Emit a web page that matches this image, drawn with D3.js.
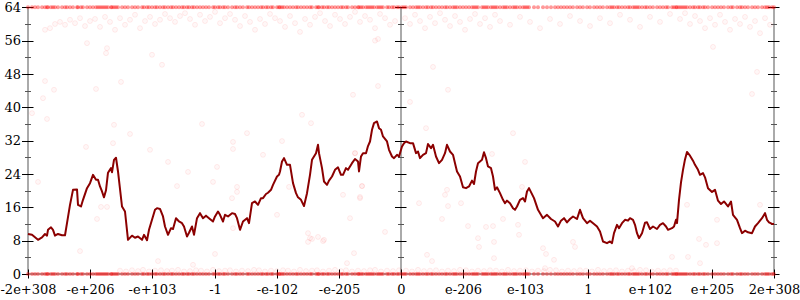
<!DOCTYPE html>
<head>
<meta charset="utf-8">
<style>
body { margin: 0; background: #fff; }
svg { display: block; }
text { font: 13px "DejaVu Serif", serif; fill: #000; }
.axis-line { stroke: #aaa; stroke-width: 2px; }
.major { stroke: #000; stroke-width: 1px; }
.minor { stroke: #555; stroke-width: 1px; }
.dot { fill: red; fill-opacity: 0.03; stroke: red; stroke-opacity: 0.07; }
.band { fill: red; fill-opacity: 0.4; stroke: none; }
.avg { fill: none; stroke: #8b0000; stroke-width: 2px; stroke-linejoin: round; }
</style>
</head>
<body>
<script src="https://cdn.jsdelivr.net/npm/d3@7"></script>
<script>
// x positions are sample ranks (0..746), tick labels sit at fixed ranks
var tickLabels = ["-2e+308", "-e+206", "-e+103", "-1", "-e-102", "-e-205", "0",
                  "e-206", "e-103", "1", "e+102", "e+205", "2e+308"];
var tickRank = [0, 62.2, 124.3, 186.5, 248.7, 310.8, 373, 435.2, 497.3, 559.5, 621.7, 683.8, 746];
var majorTicks = [0, 8, 16, 24, 32, 40, 48, 56, 64];
var minorTicks = [4, 12, 20, 28, 36, 44, 52, 60];

// average error line
var lineRank = [0,4,7,10,14,17,19,20,23,25,27,30,34,37,39,42,45,49,50,53,55,59,62,65,68,70,72,74,76,78,
  80,83,84,86,88,90,94,97,100,104,107,110,114,116,119,121,124,127,129,132,135,137,140,143,145,148,151,154,156,159,
  161,164,166,169,172,175,178,181,185,187,190,192,195,197,200,204,207,209,212,215,219,221,224,227,230,233,235,238,240,243,
  245,249,251,252,254,256,259,262,265,268,270,273,276,279,282,284,288,290,291,294,296,299,301,304,307,310,313,315,318,320,
  324,327,330,331,333,335,338,340,342,344,346,349,351,353,355,359,361,364,366,369,371,374,376,378,382,385,388,390,392,395,
  398,400,403,405,408,411,414,417,419,422,425,427,429,432,435,438,441,444,446,448,450,454,456,458,460,463,465,467,469,472,
  475,477,479,482,485,487,489,492,495,497,499,501,506,510,515,519,523,527,530,533,536,539,542,545,549,552,555,559,562,566,
  569,572,575,579,582,584,586,589,591,594,597,600,602,605,607,609,611,614,617,619,622,625,629,632,635,638,640,644,646,648,
  649,651,653,655,657,659,662,665,667,670,672,675,677,680,684,687,690,693,696,700,703,705,709,712,714,717,720,724,727,730,
  734,737,739,741,744,746];
var lineErr = [9.6,9.4,8.8,8.2,8.8,9.6,9.2,10.6,11.2,10.6,9.2,9.6,9.3,9.3,12.2,16.6,20.2,20.3,16.6,16.2,17.8,20.6,21.8,23.8,22.6,22.6,21,19.8,18.4,20.1,
  24.3,25.4,24.4,27.4,27.9,24.6,16.2,15,8.2,9.2,8.7,9.0,8.2,9.4,8.1,10.6,13,15.4,15.8,15.6,13.8,11.4,9.4,11,10.8,13.4,12.6,12.2,11.4,9.0,
  9.9,11.4,9.4,13.4,14.6,13.4,14,13.4,12.6,13.8,15,14.2,12.6,14.2,13.8,14.6,14.4,13.4,10.6,12.6,13.4,12.2,17,17.4,16.6,18.2,18.2,19.2,19.5,20.2,
  21.4,23.4,23.8,24.6,27,27.8,26.2,26.2,21.8,19.4,18.4,17.8,16.3,19.4,23.8,27.4,29,31,29,25.4,22.2,21.4,22.4,23.4,25,25.6,23.8,23.8,25.4,25,
  26.6,27.6,27,24.6,28.2,29,29,30.7,31.8,34.6,36.2,36.6,35,34.6,33,31.8,29.8,28.2,27.8,28.6,28.2,30.6,31.4,31.8,31.4,31.4,29,29.4,27.8,28.6,
  29,31.2,30.2,31,28.2,26.6,27.4,29,31,29.4,28.6,26.6,24.6,23.4,20.8,20.6,21,22.4,21.6,24.6,26.6,27.4,29.2,27.8,25.8,25.4,23.4,20.2,20.8,19.4,
  17.8,17,17.6,17,15.8,15.4,16.2,17.8,18.2,17.4,19.8,20.6,18.2,15.4,13.4,14.2,13.2,12.6,11.4,12.8,13.4,12.4,13.2,13.8,13.2,15.4,13.4,12.2,12.8,12.0,
  11.4,10.2,7.8,7.4,7.8,7.4,9.8,11.8,11.0,12.2,13.0,12.8,13.4,13.0,11.8,9.8,8.6,9.8,12.3,12.4,10.8,11.4,10.8,11.8,12.2,11.4,10.6,11.0,11.4,13.0,
  12.2,17.8,22,25,27.5,29.3,28.4,27.2,26.2,25,23.8,24.2,23.2,20.6,19.7,20.2,17.6,16.8,17.4,16.2,17.4,14.2,13,11,9.8,10.4,10,9.8,11.4,12.2,
  13.4,14.6,13,12.4,12,12];

// samples with all bits wrong / exact
var bandErr = [0, 64];

// samples with high error (56..63)
var highRank = [17,22,27,32,37,42,47,52,57,62,67,72,77,82,87,92,97,102,107,112,117,122,127,132,137,142,147,152,157,162,
  167,172,177,182,187,192,197,202,207,212,217,222,227,232,237,242,247,252,257,262,267,272,277,282,287,292,297,302,307,312,
  317,322,327,332,337,342,347,352,357,362,367,377,382,387,392,397,402,407,412,417,422,427,432,437,442,447,452,457,462,467,
  472,482,492,502,512,522,532,542,552,562,572,582,592,602,612,622,632,642,652,657,662,667,672,677,682,687,692,697,702,707,
  712,717,722,727,732,737,742];
var highErr = [58.6,59.0,60.0,60.5,59.8,61.0,60.2,61.4,59.5,60.7,61.2,59.3,61.7,60.5,58.6,61.4,59.8,61.0,62.2,59.0,60.7,61.7,60.0,61.0,62.4,61.4,60.5,61.9,62.6,61.2,
  59.8,62.2,60.7,61.7,62.9,60.2,61.4,62.4,61.0,59.5,61.9,60.5,58.6,61.2,60.0,62.4,61.4,60.7,59.3,61.9,60.2,58.1,61.2,59.8,61.7,62.6,60.7,59.5,62.2,61.2,
  60.0,61.7,62.9,60.5,61.9,61.0,59.0,62.4,61.4,59.8,60.7,61.4,60.0,62.2,60.7,59.0,61.7,60.2,62.6,61.0,59.5,61.9,60.5,58.6,61.2,62.4,60.0,61.4,59.3,62.2,
  60.7,59.8,61.7,60.5,59.0,61.2,60.0,61.9,60.7,59.5,61.4,60.2,62.2,61.0,59.3,61.7,60.5,62.4,61.2,62.6,60.0,61.9,60.7,59.0,61.4,59.8,62.2,60.5,58.6,61.2,
  60.0,61.7,59.3,60.7,57.8,61.4,59.8];

// scattered samples in between
var midRank = [10,19,86,102,85,58,122,73,79,69,4,174,205,205,219,235,140,189,160,185,149,209,209,204,249,205,274,283,254,327,
  334,315,332,322,357,280,282,290,296,280,261,398,485,497,464,494,417,420,433,391,475,414,490,440,458,465,450,491,466,187,
  284,295,326,319,52,130,165,399,404,451,466,515,518,526,545,547,517,659,689,671,678,689,660,672,644,604,732,729,724,685,
  405,350,325,420,347,350,79,78,134,124,17,26,15,68,93,59,382,327,334,332,419];
var midErr = [22.1,37.2,35.8,33.6,31.4,30.5,29.8,16.1,16.1,13.2,38.6,36,31.7,30,33.8,28.6,26.9,25.7,24.5,22.1,21.1,20.9,19.7,18.2,14.2,11.0,38.2,36.2,31.9,29,
  21.1,19,18.2,13.4,10.1,9.8,8.6,8.9,8.2,7.7,20.9,35,33.8,26.9,28.8,20.9,19,16.3,17,17,13.2,13.2,11.8,11.5,11.3,11.5,8.6,9.4,7.7,4.8,
  8.4,7.9,5,2.6,5.5,3.1,2.2,4.6,3.1,6.5,3.8,6.2,4.8,3.4,7.7,6.5,1.4,16.6,13,8.4,7,7.4,4.1,2.6,4.1,1.4,16.6,48.5,43.2,54.5,
  49.7,45.1,43,44.2,56,56.4,54.2,53,50.2,52.6,46.3,44.2,42.2,44.4,46.1,55.4,41.3,29,21.1,18.5,20.2];

// samples with about one bit of error
var lowRank = [92,98,104,110,115,121,127,133,139,144,150,156,162,168,173,179,185,191,197,202,208,214,220,226,231,237,243,249,255,260,
  266,272,278,284,289,295,301,307,313,318,324,330,336,342,347,353,359,365,371,378,384,390,396,402,408,414,420,426,432,438,
  444,450,456,462,468,474,480,486,492,498,504,510,516,522,528,534,540,546,552,558,564,570,576,582,588,594,600,606,612,618,
  624,630,636,642,648];
var lowErr = [0.8,0.6,0.9,0.7,1.0,0.6,0.8,0.9,0.7,0.8,1.0,0.6,0.7,0.9,0.8,0.6,1.0,0.7,0.8,0.9,0.6,0.8,0.7,1.0,0.9,0.6,0.8,0.7,0.9,0.8,
  0.6,1.0,0.7,0.8,0.9,0.6,0.8,1.0,0.7,0.9,0.6,0.8,0.7,0.9,1.0,0.6,0.8,0.7,0.9,0.8,0.6,1.0,0.7,0.8,0.9,0.6,0.8,0.7,1.0,0.9,
  0.6,0.8,0.7,0.9,0.8,0.6,1.0,0.7,0.8,0.9,0.6,0.8,0.7,1.0,0.9,0.6,0.8,0.7,0.9,0.8,0.6,1.0,0.7,0.8,0.9,0.6,0.8,0.7,1.0,0.9,
  0.6,0.8,0.7,0.9,0.8];

var width = 800, height = 300;
var margin = { top: 7.3, right: 26, bottom: 26, left: 28 };

var svg = d3.select("body").append("svg")
    .attr("width", width)
    .attr("height", height);

var x = d3.scaleLinear().domain([0, 746]).range([margin.left, width - margin.right]);
var y = d3.scaleLinear().domain([0, 64]).range([height - margin.bottom, margin.top]);

// vertical axes: left, middle (at 0) and right
var axisAt = [tickRank[0], tickRank[6], tickRank[12]];
var axes = svg.append("g");
axisAt.forEach(function (r, i) {
  var g = axes.append("g").attr("transform", "translate(" + x(r) + ",0)");
  g.append("line").attr("class", "axis-line")
    .attr("y1", y(64)).attr("y2", y(0));
  g.selectAll(".major").data(majorTicks).enter().append("line")
    .attr("class", "major")
    .attr("x1", -6).attr("x2", 5.5)
    .attr("y1", function (d) { return Math.round(y(d)) + 0.5; })
    .attr("y2", function (d) { return Math.round(y(d)) + 0.5; });
  g.selectAll(".minor").data(minorTicks).enter().append("line")
    .attr("class", "minor")
    .attr("x1", -3).attr("x2", 3)
    .attr("y1", function (d) { return Math.round(y(d)) + 0.5; })
    .attr("y2", function (d) { return Math.round(y(d)) + 0.5; });
  if (i === 0) {
    g.selectAll("text").data(majorTicks).enter().append("text")
      .attr("x", -7)
      .attr("y", function (d) { return y(d); })
      .attr("dy", "0.35em")
      .style("text-anchor", "end")
      .text(function (d) { return d; });
  }
});

// horizontal axis
axes.append("line").attr("class", "axis-line")
  .attr("x1", x(0)).attr("x2", x(746))
  .attr("y1", y(0)).attr("y2", y(0));
var xt = axes.selectAll(".xtick").data(tickRank).enter().append("g")
  .attr("class", "xtick")
  .attr("transform", function (d) { return "translate(" + (Math.round(x(d)) + 0.5) + "," + y(0) + ")"; });
xt.append("line").attr("class", "major").attr("y1", -4.5).attr("y2", 4.5);
xt.append("text")
  .attr("y", 20)
  .style("text-anchor", "middle")
  .text(function (d, i) { return tickLabels[i]; });

// sample points
var pts = svg.append("g");
bandErr.forEach(function (e) {
  pts.selectAll(null).data(lineRank).enter().append("circle")
    .attr("class", "band")
    .attr("r", 2)
    .attr("cx", function (d) { return x(d); })
    .attr("cy", y(e));
});
function dots(ranks, errs) {
  pts.selectAll(null).data(ranks).enter().append("circle")
    .attr("class", "dot")
    .attr("r", 2.5)
    .attr("cx", function (d) { return x(d); })
    .attr("cy", function (d, i) { return y(errs[i]); });
}
dots(highRank, highErr);
dots(midRank, midErr);
dots(lowRank, lowErr);

// average error
var line = d3.line()
  .x(function (d, i) { return x(lineRank[i]); })
  .y(function (d) { return y(d); });
svg.append("path").attr("class", "avg").attr("d", line(lineErr));
</script>
</body>
